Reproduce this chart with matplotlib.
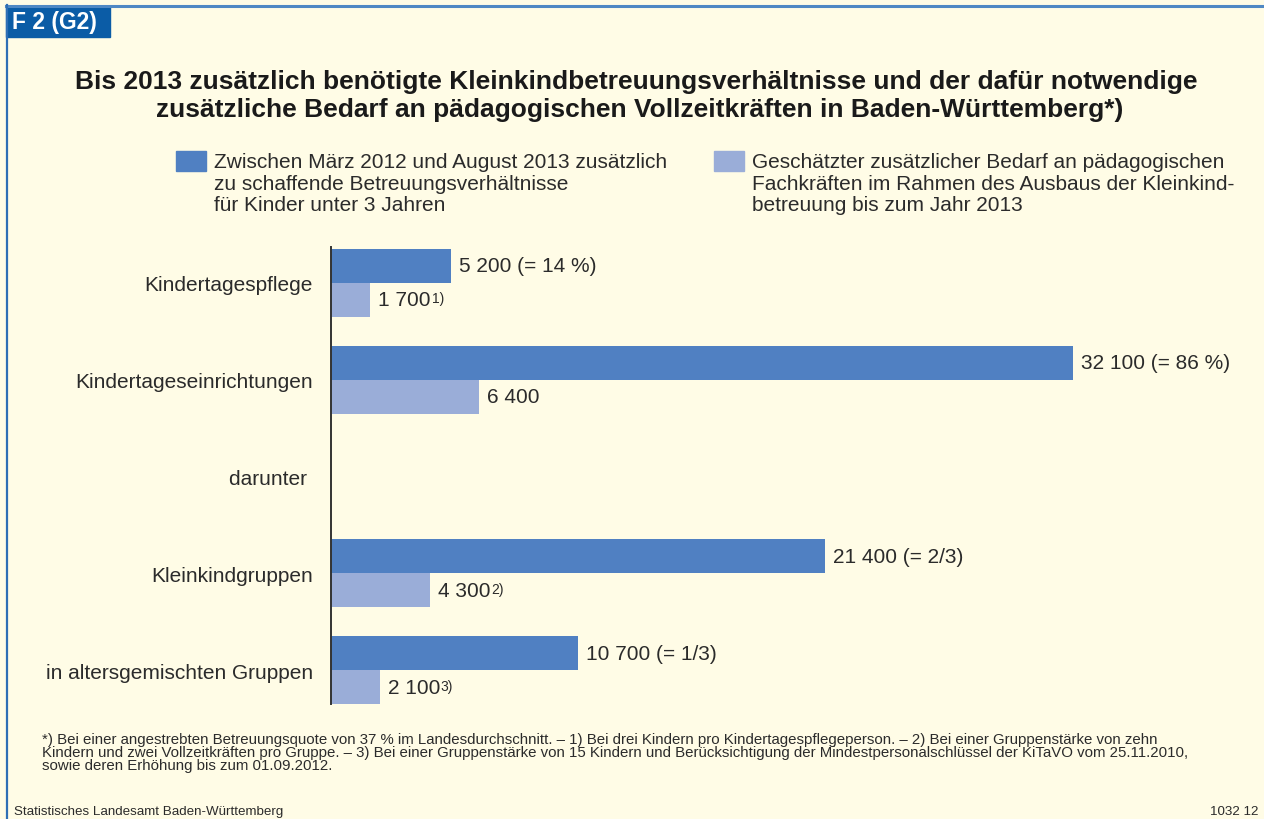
import matplotlib
matplotlib.use("Agg")
import matplotlib.pyplot as plt
from matplotlib.patches import Rectangle

# data
categories = ["Kindertagespflege", "Kindertageseinrichtungen", "darunter ",
              "Kleinkindgruppen", "in altersgemischten Gruppen"]
places = [5200, 32100, None, 21400, 10700]
staff = [1700, 6400, None, 4300, 2100]
place_labels = ["5 200 (= 14 %)", "32 100 (= 86 %)", None, "21 400 (= 2/3)", "10 700 (= 1/3)"]
staff_labels = ["1 700", "6 400", None, "4 300", "2 100"]
staff_notes = ["1)", "", None, "2)", "3)"]
footnote_lines = [
    "*) Bei einer angestrebten Betreuungsquote von 37 % im Landesdurchschnitt. – 1) Bei drei Kindern pro Kindertagespflegeperson. – 2) Bei einer Gruppenstärke von zehn",
    "Kindern und zwei Vollzeitkräften pro Gruppe. – 3) Bei einer Gruppenstärke von 15 Kindern und Berücksichtigung der Mindestpersonalschlüssel der KiTaVO vom 25.11.2010,",
    "sowie deren Erhöhung bis zum 01.09.2012.",
]

bg = "#fffce6"
dark = "#5080c2"
light = "#9aadd8"
txt = "#2b2b2b"
fs = 15

plt.rcParams["font.family"] = ["Liberation Sans", "DejaVu Sans"]

fig = plt.figure(figsize=(12.64, 8.2), dpi=100, facecolor=bg)
W, H = 1264, 820

def fx(x):
    return x / W

def fy(y):
    return 1 - y / H

# frame and tag
fig.add_artist(plt.Line2D([fx(6), 1], [fy(6.5), fy(6.5)], color="#4f88c4", lw=2.2))
fig.add_artist(plt.Line2D([fx(6.5), fx(6.5)], [0, fy(6)], color="#2f6fb5", lw=1.6))
fig.add_artist(Rectangle((fx(6), fy(38)), fx(104), 31 / H, color="#0b5ca6"))
fig.text(fx(12), fy(23), "F 2 (G2)", color="white", fontsize=16.5, fontweight="bold",
         va="center", ha="left")

# title
fig.text(fx(636), fy(82), "Bis 2013 zusätzlich benötigte Kleinkindbetreuungsverhältnisse und der dafür notwendige",
         ha="center", va="center", fontsize=19, fontweight="bold", color="#1a1a1a")
fig.text(fx(640), fy(110), "zusätzliche Bedarf an pädagogischen Vollzeitkräften in Baden-Württemberg*)",
         ha="center", va="center", fontsize=19, fontweight="bold", color="#1a1a1a")

# legend
fig.add_artist(Rectangle((fx(176), fy(172)), 30 / W, 20 / H, color=dark))
fig.text(fx(214), fy(153), "Zwischen März 2012 und August 2013 zusätzlich\nzu schaffende Betreuungsverhältnisse\nfür Kinder unter 3 Jahren",
         ha="left", va="top", fontsize=fs, color=txt, linespacing=1.17)
fig.add_artist(Rectangle((fx(714), fy(172)), 30 / W, 20 / H, color=light))
fig.text(fx(752), fy(153), "Geschätzter zusätzlicher Bedarf an pädagogischen\nFachkräften im Rahmen des Ausbaus der Kleinkind-\nbetreuung bis zum Jahr 2013",
         ha="left", va="top", fontsize=fs, color=txt, linespacing=1.17)

# bars
ax = fig.add_axes([fx(331), fy(705), (1255 - 331) / W, (705 - 248) / H])
ax.set_facecolor("none")
ax.set_xlim(0, 40000)
ax.set_ylim(4.35, -0.37)
bh = 0.35
for i, cat in enumerate(categories):
    if places[i] is not None:
        ax.barh(i - bh / 2, places[i], height=bh, color=dark)
        ax.barh(i + bh / 2, staff[i], height=bh, color=light)
        ax.text(places[i] + 350, i - bh / 2, place_labels[i], va="center", ha="left",
                fontsize=fs, color=txt)
        t = ax.text(staff[i] + 350, i + bh / 2, staff_labels[i], va="center", ha="left",
                    fontsize=fs, color=txt)
        if staff_notes[i]:
            ax.annotate(staff_notes[i], xy=(1, 0.95), xycoords=t, xytext=(0.5, 0),
                        textcoords="offset points", fontsize=10, color=txt,
                        ha="left", va="top")
ax.set_yticks(range(len(categories)))
ax.set_yticklabels(categories, fontsize=fs, color=txt)
ax.tick_params(axis="y", length=0, pad=13)
ax.set_xticks([])
for s in ["top", "right", "bottom"]:
    ax.spines[s].set_visible(False)
ax.spines["left"].set_color("#333333")
ax.spines["left"].set_linewidth(1.4)

# footnote, one line at a time to keep the tight spacing
for k, line in enumerate(footnote_lines):
    fig.text(fx(42), fy(740 + 13 * k), line, ha="left", va="center",
             fontsize=10.8, color=txt)

fig.text(fx(14), fy(812), "Statistisches Landesamt Baden-Württemberg", ha="left", va="center",
         fontsize=9.6, color=txt)
fig.text(fx(1258), fy(812), "1032 12", ha="right", va="center",
         fontsize=9.6, color=txt)

fig.savefig("out.png", dpi=100, facecolor=bg)
